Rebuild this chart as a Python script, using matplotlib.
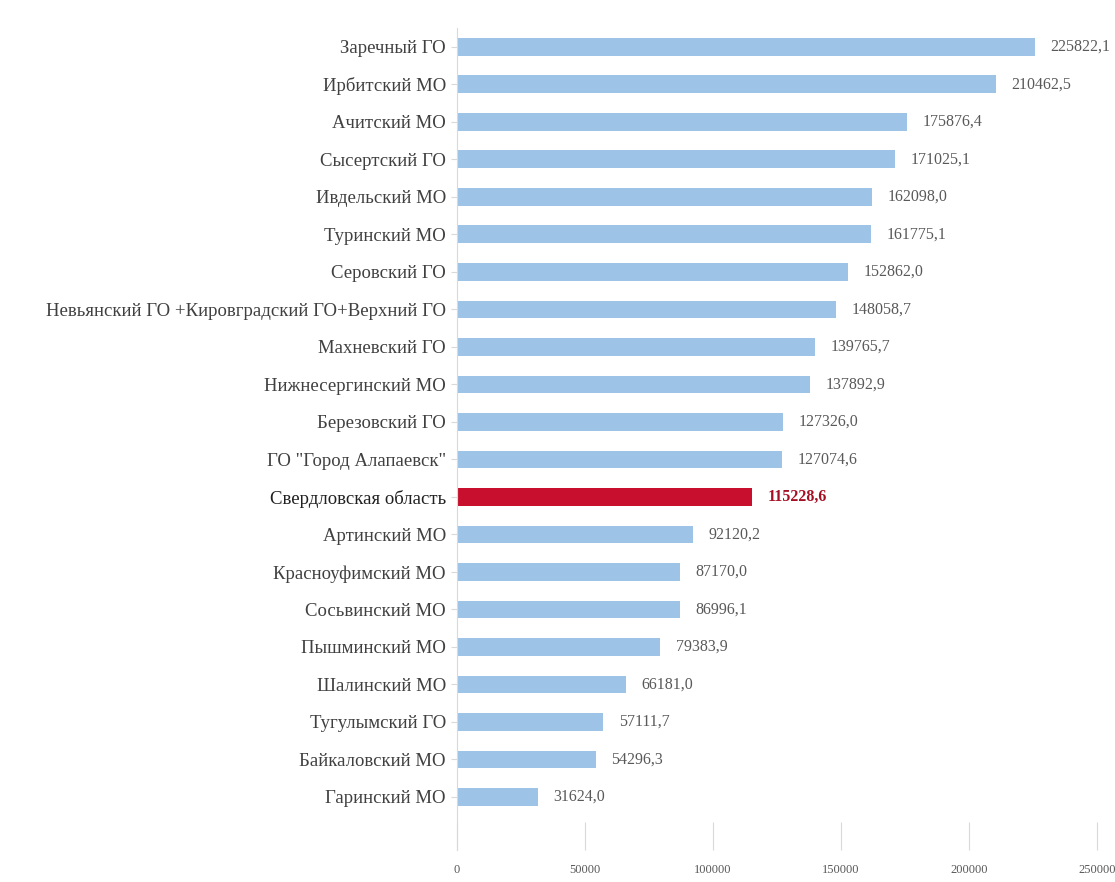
import matplotlib
matplotlib.use("Agg")
import matplotlib.pyplot as plt

# муниципальные образования и значения показателя
names = [
    "Заречный ГО",
    "Ирбитский МО",
    "Ачитский МО",
    "Сысертский ГО",
    "Ивдельский МО",
    "Туринский МО",
    "Серовский ГО",
    "Невьянский ГО +Кировградский ГО+Верхний ГО",
    "Махневский ГО",
    "Нижнесергинский МО",
    "Березовский ГО",
    'ГО "Город Алапаевск"',
    "Свердловская область",
    "Артинский МО",
    "Красноуфимский МО",
    "Сосьвинский МО",
    "Пышминский МО",
    "Шалинский МО",
    "Тугулымский ГО",
    "Байкаловский МО",
    "Гаринский МО",
]
values = [
    225822.1, 210462.5, 175876.4, 171025.1, 162098.0, 161775.1, 152862.0,
    148058.7, 139765.7, 137892.9, 127326.0, 127074.6, 115228.6, 92120.2,
    87170.0, 86996.1, 79383.9, 66181.0, 57111.7, 54296.3, 31624.0,
]
region = "Свердловская область"
xticks = [0, 50000, 100000, 150000, 200000, 250000]

plt.rcParams['font.family'] = ['Liberation Serif', 'DejaVu Serif']

fig = plt.figure(figsize=(11.15, 8.82), dpi=100)
ax = fig.add_axes([457 / 1115, 1 - 850 / 882, (1097 - 457) / 1115, (850 - 28) / 882])

pos = list(range(len(names)))
colors = ["#C8102E" if n == region else "#9DC3E6" for n in names]
ax.barh(pos, values, height=0.47, color=colors)

for y, v, n in zip(pos, values, names):
    txt = f"{v:.1f}".replace(".", ",")
    if n == region:
        ax.text(v + 6000, y, txt, va="center", ha="left", fontsize=11.5,
                color="#A50F25", fontweight="bold")
    else:
        ax.text(v + 6000, y, txt, va="center", ha="left", fontsize=11.5,
                color="#595959")

ax.set_xlim(0, 250000)
ax.set_ylim(len(names) - 1 + 53 / 37.5, -0.5)
ax.set_yticks(pos)
ax.set_yticklabels(names, fontsize=13.5, color="#404040")
for lbl, n in zip(ax.get_yticklabels(), names):
    if n == region:
        lbl.set_color("#202020")
ax.set_xticks(xticks)
ax.set_xticklabels([str(t) for t in xticks], fontsize=9, color="#595959")

for s in ["top", "right", "bottom"]:
    ax.spines[s].set_visible(False)
ax.spines["left"].set_color("#D9D9D9")
ax.tick_params(axis="y", length=4, color="#D9D9D9", pad=4)
ax.tick_params(axis="x", direction="in", length=20, color="#D9D9D9", pad=10)

fig.savefig("out.png", dpi=100)
